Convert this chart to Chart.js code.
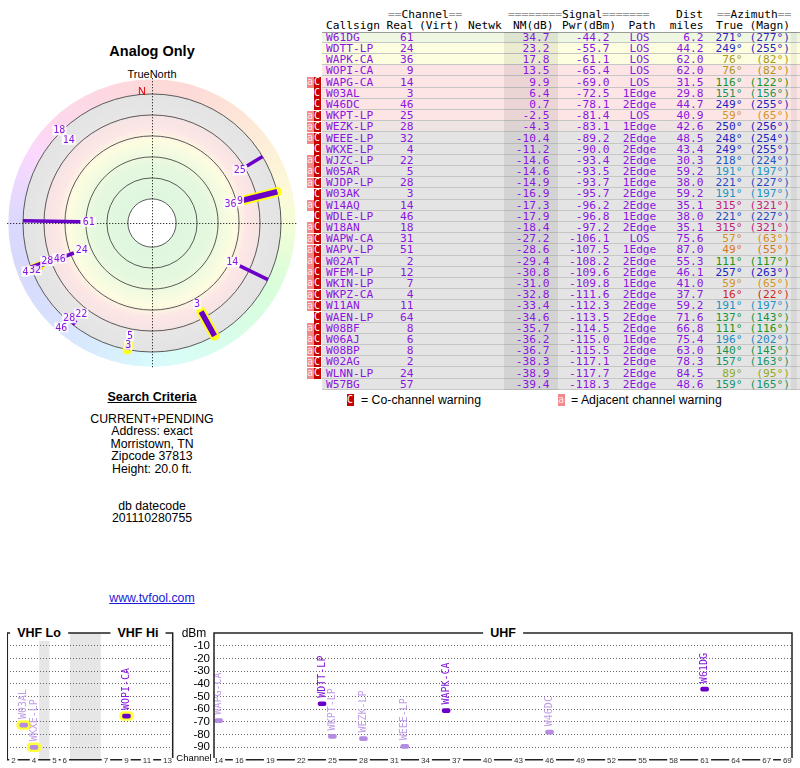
<!DOCTYPE html>
<html>
<head>
<meta charset="utf-8">
<title>Analog Only</title>
<script src="https://cdn.jsdelivr.net/npm/chart.js@4.4.1/dist/chart.umd.min.js"></script>
<style>
  html, body { margin: 0; padding: 0; background: #fff; }
  body { position: relative; width: 800px; height: 768px; overflow: hidden; font-family: "Liberation Sans", Arial, sans-serif; color: #000; }
  .abs { position: absolute; white-space: pre; }
  .mono { font-family: "DejaVu Sans Mono", monospace; font-size: 11.2px; line-height: 11px; }
  .ctr { text-align: center; }
  canvas { position: absolute; }
  .boxtitle { position: absolute; top: 625px; height: 16px; line-height: 16px; font-weight: bold; font-size: 12.5px; background: #fff; padding: 0 7px; transform: translateX(-50%); }
  .badge { position: absolute; width: 7px; color: #fff; text-align: center; font-family: "DejaVu Sans Mono", monospace; font-size: 10px; }
</style>
</head>
<body>
<div class="abs ctr" style="left:52px;top:43px;width:200px;font-weight:bold;font-size:14.5px;line-height:16px">Analog Only</div>
<div class="abs ctr" style="left:52px;top:68px;width:200px;font-size:11px;line-height:12px">TrueNorth</div>
<canvas id="radar" width="300" height="300" style="left:2px;top:73px"></canvas>

<div class="abs ctr" style="left:52px;top:390px;width:200px;font-weight:bold;font-size:12.5px;line-height:15px;text-decoration:underline">Search Criteria</div>
<div class="abs ctr" style="left:52px;top:413px;width:200px;font-size:12.3px;line-height:12.4px">CURRENT+PENDING
Address: exact
Morristown, TN
Zipcode 37813
Height: 20.0 ft.


db datecode
201110280755</div>
<div class="abs ctr" style="left:52px;top:591px;width:200px;font-size:12.3px;line-height:14px;color:#1a1ad8;text-decoration:underline">www.tvfool.com</div>

<div id="table"></div>

<canvas id="vhf" width="170" height="136" style="left:7px;top:632px"></canvas>
<canvas id="uhf" width="624" height="136" style="left:172px;top:632px"></canvas>
<div class="boxtitle" style="left:39px">VHF Lo</div>
<div class="boxtitle" style="left:138px">VHF Hi</div>
<div class="boxtitle" style="left:503px">UHF</div>
<div class="abs ctr" style="left:164px;top:626px;width:60px;font-size:12px;line-height:14px">dBm</div>
<div class="abs ctr" style="left:164px;top:752px;width:60px;font-size:9.5px;line-height:12px">Channel</div>

<script>
// stations, sorted by noise margin
const callsigns = ['W61DG','WDTT-LP','WAPK-CA','WOPI-CA','WAPG-CA','W03AL','W46DC','WKPT-LP','WEZK-LP','WEEE-LP','WKXE-LP','WJZC-LP','W05AR','WJDP-LP','W03AK','W14AQ','WDLE-LP','W18AN','WAPW-CA','WAPV-LP','W02AT','WFEM-LP','WKIN-LP','WKPZ-CA','W11AN','WAEN-LP','W08BF','W06AJ','W08BP','W02AG','WLNN-LP','W57BG'];
const realChannels = [61,24,36,9,14,3,46,25,28,32,4,22,5,28,3,14,46,18,31,51,2,12,7,4,11,64,8,6,8,2,24,57];
const noiseMargin = [34.7,23.2,17.8,13.5,9.9,6.4,0.7,-2.5,-4.3,-10.4,-11.2,-14.6,-14.6,-14.9,-16.9,-17.3,-17.9,-18.4,-27.2,-28.6,-29.4,-30.8,-31.0,-32.8,-33.4,-34.6,-35.7,-36.2,-36.7,-38.3,-38.9,-39.4];
const signalPwr = [-44.2,-55.7,-61.1,-65.4,-69.0,-72.5,-78.1,-81.4,-83.1,-89.2,-90.0,-93.4,-93.5,-93.7,-95.7,-96.2,-96.8,-97.2,-106.1,-107.5,-108.2,-109.6,-109.8,-111.6,-112.3,-113.5,-114.5,-115.0,-115.5,-117.1,-117.7,-118.3];
const paths = ['LOS','LOS','LOS','LOS','LOS','1Edge','2Edge','LOS','1Edge','2Edge','2Edge','2Edge','2Edge','1Edge','2Edge','2Edge','1Edge','2Edge','LOS','1Edge','2Edge','2Edge','1Edge','2Edge','2Edge','2Edge','2Edge','1Edge','2Edge','2Edge','2Edge','2Edge'];
const distMiles = [6.2,44.2,62.0,62.0,31.5,29.8,44.7,40.9,42.6,48.5,43.4,30.3,59.2,38.0,59.2,35.1,38.0,35.1,75.6,87.0,55.3,46.1,41.0,37.7,59.2,71.6,66.8,75.4,63.0,78.3,84.5,48.6];
const azTrue = [271,249,76,76,116,151,249,59,250,248,249,218,191,221,191,315,221,315,57,49,111,257,59,16,191,137,111,196,140,157,89,159];
const azMagn = [277,255,82,82,122,156,255,65,256,254,255,224,197,227,197,321,227,321,63,55,117,263,65,22,197,143,116,202,145,163,95,165];
const warnings = ['','','','','aC','C','C','aC','aC','aC','C','aC','aC','aC','C','aC','C','aC','aC','aC','aC','aC','aC','aC','aC','C','aC','aC','aC','aC','aC',''];

// axes
const dbmTicks = [-10,-20,-30,-40,-50,-60,-70,-80,-90];
const vhfTickChannels = [2,4,5,6,7,9,11,13];
const uhfTickChannels = [14,16,19,22,25,28,31,34,37,40,43,46,49,52,55,58,61,64,67,69];
const radarRingNM = [80,60,40,20,0,-20];

const PURPLE = '#8a14e0';

// radar radius: noise margin 80 dB at the hole, -20 dB at the outer circle
const rhoOf = nm => 103 - nm;
const RING_IN = rhoOf(-20), RING_OUT = 137;

// azimuth -> hue used for the compass ring and the azimuth column
const hueAnchors = [[0,0],[16,3],[50,30],[58,38],[76,52],[90,72],[112,118],[138,142],[160,160],[192,198],[220,222],[250,238],[272,246],[315,326],[360,360]];
function hueFor(az) {
  for (let i = 1; i < hueAnchors.length; i++) {
    const [a0, h0] = hueAnchors[i - 1], [a1, h1] = hueAnchors[i];
    if (az <= a1) return h0 + (h1 - h0) * (az - a0) / (a1 - a0);
  }
  return 0;
}
function azColor(az) {
  const h = hueFor(az);
  let l = 44;
  if (h < 25) l = 46; else if (h < 46) l = 48; else if (h < 85) l = 39; else if (h < 175) l = 34;
  return `hsl(${h.toFixed(0)},72%,${l}%)`;
}
function rowColor(nm) {
  if (nm >= 30) return '#eef7e2';
  if (nm >= 15) return '#fdfde0';
  if (nm >= -3) return '#fde5e5';
  if (nm >= -6) return '#efe4e4';
  return '#e4e4e4';
}

// ---------- table ----------
const ROW_Y0 = 37.3, ROW_H = 11.19;
const tbl = document.getElementById('table');
function put(text, x, y, align, color) {
  const d = document.createElement('div');
  d.className = 'abs mono';
  d.textContent = text;
  d.style.top = (y - 5.5) + 'px';
  if (align === 'right') d.style.right = (800 - x) + 'px';
  else if (align === 'center') { d.style.left = (x - 40) + 'px'; d.style.width = '80px'; d.style.textAlign = 'center'; }
  else d.style.left = x + 'px';
  if (color) d.style.color = color;
  tbl.appendChild(d);
  return d;
}
function putRuled(parts, x, y) {
  const d = put('', x, y, 'left');
  parts.forEach(([t, c]) => { const s = document.createElement('span'); s.textContent = t; s.style.color = c; d.appendChild(s); });
}
function box(x, y, w, h, bg) {
  const d = document.createElement('div');
  d.style.cssText = `position:absolute;left:${x}px;top:${y}px;width:${w}px;height:${h}px;background:${bg}`;
  tbl.appendChild(d);
  return d;
}

callsigns.forEach((c, i) => {
  const top = ROW_Y0 - ROW_H / 2 + i * ROW_H;
  const r = box(322, top, 478, ROW_H, rowColor(noiseMargin[i]));
  r.style.boxSizing = 'border-box';
  r.style.borderBottom = '1px solid #c6c6c6';
  if (i === 0) r.style.borderTop = '1px solid #9a9a9a';
});
box(504, ROW_Y0 - ROW_H / 2, 54, ROW_H * callsigns.length, 'rgba(0,0,0,0.07)');
box(791, ROW_Y0 - ROW_H / 2, 6, ROW_H * callsigns.length, 'rgba(0,0,0,0.05)');

putRuled([['==', '#999'], ['Channel', '#000'], ['==', '#999']], 388, 14.3);
putRuled([['========', '#999'], ['Signal', '#000'], ['=======', '#999']], 508, 14.3);
put('Dist', 703, 14.3, 'right');
putRuled([['==', '#999'], ['Azimuth', '#000'], ['==', '#999']], 717, 14.3);
put('Callsign', 326, 25.3, 'left');
put('Real', 413.5, 25.3, 'right');
put('(Virt)', 419, 25.3, 'left');
put('Netwk', 468, 25.3, 'left');
put('NM(dB)', 513, 25.3, 'left');
put('Pwr(dBm)', 562, 25.3, 'left');
put('Path', 642, 25.3, 'center');
put('miles', 703.5, 25.3, 'right');
put('True', 743, 25.3, 'right');
put('(Magn)', 790, 25.3, 'right');

callsigns.forEach((c, i) => {
  const y = ROW_Y0 + i * ROW_H;
  const top = y - ROW_H / 2;
  if (warnings[i].includes('a')) {
    const b = document.createElement('div');
    b.className = 'badge'; b.textContent = 'a';
    b.style.cssText += `left:306.5px;top:${top + 0.5}px;height:${ROW_H - 0.5}px;line-height:${ROW_H - 1}px;background:#f28a8a;color:#ffe4e4`;
    tbl.appendChild(b);
  }
  if (warnings[i].includes('C')) {
    const b = document.createElement('div');
    b.className = 'badge'; b.textContent = 'C';
    b.style.cssText += `left:313.5px;top:${top + 0.5}px;height:${ROW_H - 0.5}px;line-height:${ROW_H - 1}px;background:#c80000`;
    tbl.appendChild(b);
  }
  put(c, 326, y, 'left', PURPLE);
  put(String(realChannels[i]), 413.5, y, 'right', PURPLE);
  put(noiseMargin[i].toFixed(1), 549.5, y, 'right', PURPLE);
  put(signalPwr[i].toFixed(1), 609.5, y, 'right', PURPLE);
  put(paths[i], 639.5, y, 'center', PURPLE);
  put(distMiles[i].toFixed(1), 703.5, y, 'right', PURPLE);
  put(azTrue[i] + '°', 742.5, y, 'right', azColor(azTrue[i]));
  put('(' + azMagn[i] + '°)', 790, y, 'right', azColor(azTrue[i]));
});

// legend
(function () {
  const c = document.createElement('div');
  c.className = 'badge'; c.textContent = 'C';
  c.style.cssText += 'left:346.5px;top:393.5px;height:12px;line-height:12px;background:#c80000';
  tbl.appendChild(c);
  const a = document.createElement('div');
  a.className = 'badge'; a.textContent = 'a';
  a.style.cssText += 'left:557.5px;top:393.5px;height:12px;line-height:12px;background:#f28a8a;color:#ffe4e4';
  tbl.appendChild(a);
  const t1 = document.createElement('div');
  t1.className = 'abs'; t1.textContent = '= Co-channel warning';
  t1.style.cssText += 'left:361px;top:392.5px;font-size:12.3px;line-height:14px';
  tbl.appendChild(t1);
  const t2 = document.createElement('div');
  t2.className = 'abs'; t2.textContent = '= Adjacent channel warning';
  t2.style.cssText += 'left:571px;top:392.5px;font-size:12.3px;line-height:14px';
  tbl.appendChild(t2);
})();

// ---------- radar ----------
const isVHF = ch => ch <= 13;
const radarIdx = callsigns.map((c, i) => i).filter(i => noiseMargin[i] >= -20);
const polar = (rho, az) => ({ x: rho * Math.sin(az * Math.PI / 180), y: rho * Math.cos(az * Math.PI / 180) });

const bandStops = [[80,'#dff7df'],[48,'#e5f8df'],[33,'#f4fbe0'],[24,'#fdfde0'],[13,'#fde6e6'],[3,'#f8e4e4'],[-3,'#e6e6e6'],[-20,'#e3e3e3']];

const radarDatasets = [];
radarIdx.forEach(i => {
  const pts = [polar(RING_IN, azTrue[i]), polar(rhoOf(noiseMargin[i]), azTrue[i])];
  if (isVHF(realChannels[i])) {
    radarDatasets.push({ data: pts, showLine: true, borderColor: '#ffff1a', borderWidth: 9.5, borderCapStyle: 'round', pointRadius: 0, order: 10 });
  }
  radarDatasets.push({ data: pts, showLine: true, borderColor: '#6a00c8', borderWidth: isVHF(realChannels[i]) ? 5.5 : 3.5, borderCapStyle: 'butt', pointRadius: 0, order: 5 });
});

const radarBackdrop = {
  id: 'radarBackdrop',
  beforeDatasetsDraw(chart) {
    const { ctx, scales: { x, y } } = chart;
    const cx = x.getPixelForValue(0), cy = y.getPixelForValue(0);
    const k = (x.getPixelForValue(100) - cx) / 100;
    ctx.save();
    const ring = ctx.createConicGradient(-Math.PI / 2, cx, cy);
    for (let a = 0; a <= 360; a += 15) ring.addColorStop(a / 360, `hsl(${hueFor(a).toFixed(0)},90%,92%)`);
    ctx.beginPath();
    ctx.arc(cx, cy, RING_OUT * k, 0, 2 * Math.PI);
    ctx.arc(cx, cy, RING_IN * k, 0, 2 * Math.PI, true);
    ctx.fillStyle = ring;
    ctx.fill();

    const g = ctx.createRadialGradient(cx, cy, rhoOf(80) * k, cx, cy, RING_IN * k);
    bandStops.forEach(([nm, col]) => g.addColorStop((rhoOf(nm) - rhoOf(80)) / (RING_IN - rhoOf(80)), col));
    ctx.beginPath();
    ctx.arc(cx, cy, RING_IN * k, 0, 2 * Math.PI);
    ctx.fillStyle = g;
    ctx.fill();
    ctx.beginPath();
    ctx.arc(cx, cy, rhoOf(80) * k, 0, 2 * Math.PI);
    ctx.fillStyle = '#fff';
    ctx.fill();

    ctx.strokeStyle = '#333';
    ctx.lineWidth = 0.8;
    radarRingNM.forEach(nm => {
      ctx.beginPath();
      ctx.arc(cx, cy, rhoOf(nm) * k, 0, 2 * Math.PI);
      ctx.stroke();
    });

    ctx.setLineDash([1, 2]);
    ctx.strokeStyle = '#000';
    ctx.lineWidth = 1;
    ctx.beginPath();
    ctx.moveTo(x.getPixelForValue(-138), cy + 0.5); ctx.lineTo(x.getPixelForValue(138), cy + 0.5);
    ctx.moveTo(cx + 0.5, y.getPixelForValue(138)); ctx.lineTo(cx + 0.5, y.getPixelForValue(-138));
    ctx.stroke();
    ctx.restore();
  }
};

const radarLabels = {
  id: 'radarLabels',
  afterDatasetsDraw(chart) {
    const { ctx, scales: { x, y } } = chart;
    ctx.save();
    ctx.font = '10px "DejaVu Sans Mono", monospace';
    ctx.textAlign = 'center';
    ctx.textBaseline = 'middle';
    const placed = [];
    radarIdx.forEach(i => {
      const label = String(realChannels[i]);
      const w = ctx.measureText(label).width, h = 9;
      let rho = rhoOf(noiseMargin[i]) - 8, px, py;
      for (let step = 0; step < 60; step++) {
        const p = polar(rho, azTrue[i]);
        px = x.getPixelForValue(p.x); py = y.getPixelForValue(p.y);
        const hit = placed.some(q => Math.abs(q.x - px) < (q.w + w) / 2 && Math.abs(q.y - py) < (q.h + h) / 2);
        if (!hit) break;
        rho += 0.5;
      }
      placed.push({ x: px, y: py, w, h });
      ctx.fillStyle = 'rgba(255,255,255,0.88)';
      ctx.fillRect(px - w / 2 - 1, py - 5, w + 2, 10);
      ctx.fillStyle = PURPLE;
      ctx.fillText(label, px, py + 0.5);
    });
    // north marker
    ctx.font = '11px "Liberation Sans", Arial, sans-serif';
    ctx.fillStyle = '#e00000';
    ctx.fillText('N', x.getPixelForValue(0) - 10, y.getPixelForValue(125));
    ctx.restore();
  }
};

new Chart(document.getElementById('radar'), {
  type: 'scatter',
  data: { datasets: radarDatasets },
  options: {
    responsive: false, animation: false, events: [],
    layout: { padding: 0 },
    plugins: { legend: { display: false }, tooltip: { enabled: false } },
    scales: {
      x: { type: 'linear', min: -143, max: 143, display: false },
      y: { type: 'linear', min: -143, max: 143, display: false }
    }
  },
  plugins: [radarBackdrop, radarLabels]
});

// ---------- spectrum ----------
// VHF slots: channels 2-4, 72-76 MHz gap, 5-6, FM gap, 7-13
const vhfSlot = ch => ch <= 4 ? ch - 2 : (ch <= 6 ? ch - 1 : ch + 2);
const vhfGaps = [[2.5, 3.5], [5.5, 8.5]];
const spectrumIdx = callsigns.map((c, i) => i).filter(i => signalPwr[i] >= -90.05);
const strong = i => noiseMargin[i] >= 10;

function spectrumItems(filterFn, xOf) {
  return spectrumIdx.filter(i => filterFn(realChannels[i])).map(i => ({
    x: xOf(realChannels[i]), pwr: signalPwr[i], name: callsigns[i], strong: strong(i), vhf: isVHF(realChannels[i])
  }));
}

function framePlugin(gaps) {
  return {
    id: 'frame',
    beforeDraw(chart) {
      const { ctx, chartArea: a, scales: { x } } = chart;
      ctx.save();
      ctx.fillStyle = '#e6e6e6';
      gaps.forEach(([s, e]) => {
        const x0 = x.getPixelForValue(s), x1 = x.getPixelForValue(e);
        ctx.fillRect(x0, a.top, x1 - x0, a.bottom - a.top);
      });
      ctx.restore();
    },
    afterDraw(chart) {
      const { ctx, chartArea: a, scales: { x } } = chart;
      ctx.save();
      ctx.strokeStyle = '#222';
      ctx.lineWidth = 1.5;
      ctx.beginPath();
      ctx.moveTo(a.left, a.bottom); ctx.lineTo(a.left, a.top); ctx.lineTo(a.right, a.top); ctx.lineTo(a.right, a.bottom);
      ctx.stroke();
      ctx.restore();
    }
  };
}

// channel numbers sit on the axis line, each with a small white gap
function axisLabelPlugin(values, labels) {
  return {
    id: 'axisLabels',
    afterDraw(chart) {
      const { ctx, chartArea: a, scales: { x } } = chart;
      ctx.save();
      ctx.font = '8px "Liberation Sans", Arial, sans-serif';
      ctx.textAlign = 'center';
      ctx.textBaseline = 'middle';
      values.forEach((v, i) => {
        const px = x.getPixelForValue(v);
        const t = String(labels[i]);
        const w = ctx.measureText(t).width;
        ctx.fillStyle = '#fff';
        ctx.fillRect(px - w / 2 - 2, a.bottom - 2, w + 4, 4);
        ctx.fillStyle = '#333';
        ctx.fillText(t, px, a.bottom + 0.5);
      });
      ctx.restore();
    }
  };
}

function labelPlugin(items) {
  return {
    id: 'specLabels',
    afterDatasetsDraw(chart) {
      const { ctx, scales: { x, y } } = chart;
      ctx.save();
      ctx.font = '10px "DejaVu Sans Mono", monospace';
      ctx.textAlign = 'left';
      ctx.textBaseline = 'middle';
      items.forEach(it => {
        ctx.save();
        ctx.translate(x.getPixelForValue(it.x), y.getPixelForValue(it.pwr) - 6);
        ctx.rotate(-Math.PI / 2);
        ctx.fillStyle = it.strong ? '#8214dc' : '#c09ce8';
        ctx.fillText(it.name, 0, 0);
        ctx.restore();
      });
      ctx.restore();
    }
  };
}

function spectrumChart(id, cfg) {
  const items = cfg.items;
  const halo = items.filter(it => it.vhf);
  return new Chart(document.getElementById(id), {
    type: 'bar',
    data: {
      datasets: [
        { data: items.map(it => ({ x: it.x, y: [it.pwr - 1.6, it.pwr + 1.6] })),
          backgroundColor: items.map(it => it.strong ? '#6a00c8' : '#b48ce1'),
          barThickness: 8, borderRadius: 2, borderSkipped: false, grouped: false, order: 1 },
        { data: halo.map(it => ({ x: it.x, y: [it.pwr - 3.5, it.pwr + 3.5] })),
          backgroundColor: '#ffff3a', barThickness: 14, borderRadius: 5, borderSkipped: false, grouped: false, order: 2 }
      ]
    },
    options: {
      responsive: false, animation: false, events: [],
      layout: { padding: cfg.padding },
      plugins: { legend: { display: false }, tooltip: { enabled: false } },
      scales: {
        x: {
          type: 'linear', min: cfg.xmin, max: cfg.xmax, offset: false,
          grid: { display: false, drawTicks: false },
          border: { display: true, color: '#222', width: 1.5 },
          afterBuildTicks: s => { s.ticks = cfg.tickValues.map(v => ({ value: v })); },
          afterFit: s => { s.height = 8; s.paddingLeft = 0; s.paddingRight = 0; },
          ticks: { display: false, autoSkip: false }
        },
        y: {
          type: 'linear', min: -100, max: 0,
          grid: { color: '#666', drawTicks: false },
          border: { display: false, dash: [1, 2] },
          afterBuildTicks: s => { s.ticks = dbmTicks.map(v => ({ value: v })); },
          afterFit: s => { s.width = cfg.yWidth; s.paddingTop = 0; s.paddingBottom = 0; },
          ticks: { display: cfg.yLabels, autoSkip: false, padding: 4, font: { size: 11.5, family: 'Liberation Sans' }, color: '#000' }
        }
      }
    },
    plugins: [framePlugin(cfg.gaps), labelPlugin(items), axisLabelPlugin(cfg.tickValues, cfg.tickLabels)]
  });
}

spectrumChart('vhf', {
  items: spectrumItems(isVHF, vhfSlot),
  xmin: -0.6, xmax: 15.5,
  tickValues: vhfTickChannels.map(vhfSlot), tickLabels: vhfTickChannels,
  gaps: vhfGaps, yWidth: 0, yLabels: false,
  padding: { top: 1, left: 0.3, right: 4.3, bottom: 0 }
});

spectrumChart('uhf', {
  items: spectrumItems(ch => !isVHF(ch), ch => ch),
  xmin: 13.55, xmax: 69.45,
  tickValues: uhfTickChannels, tickLabels: uhfTickChannels,
  gaps: [], yWidth: 42, yLabels: true,
  padding: { top: 1, left: 0, right: 4, bottom: 0 }
});
</script>
</body>
</html>
